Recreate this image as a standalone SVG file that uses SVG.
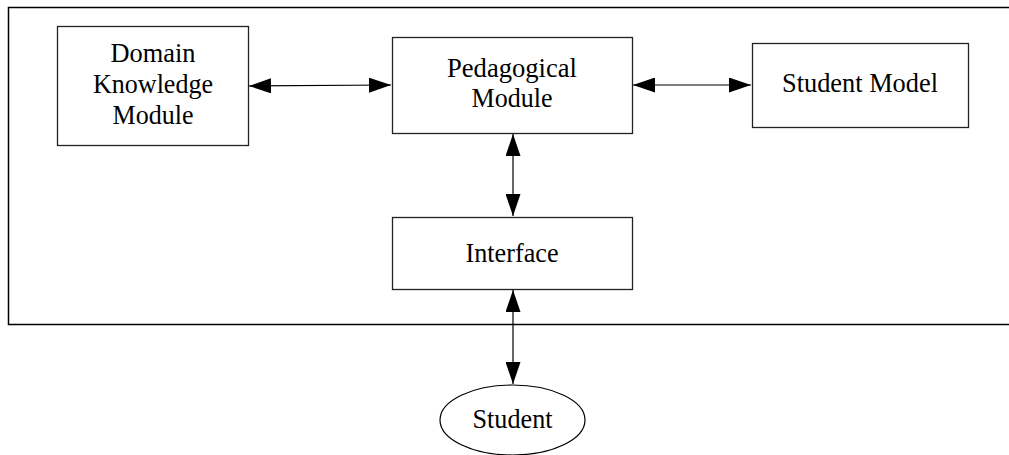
<svg xmlns="http://www.w3.org/2000/svg" width="1009" height="455" viewBox="0 0 1009 455">
  <style>
    .box { fill: #fff; stroke: #222; stroke-width: 1.3; }
    .frame { fill: none; stroke: #000; stroke-width: 1.5; }
    .lbl { font-family: "Liberation Serif", "Times New Roman", serif; font-size: 28px; fill: #000; text-anchor: middle; }
    .link { stroke: #000; stroke-width: 1.2; fill: none; marker-start: url(#head); marker-end: url(#head); }
  </style>
  <defs>
    <marker id="head" markerUnits="userSpaceOnUse" markerWidth="22" markerHeight="15" refX="22" refY="7.5" orient="auto-start-reverse">
      <path d="M0,0 L22,7.5 L0,15 z" fill="#000"/>
    </marker>
  </defs>

  <rect width="1009" height="455" fill="#fff"/>

  <!-- system boundary, open on the right -->
  <rect class="frame" x="8.5" y="7.5" width="1010" height="317"/>

  <g id="connectors">
    <line class="link" x1="249" y1="86" x2="391" y2="85"/>
    <line class="link" x1="633" y1="85" x2="751" y2="85"/>
    <line class="link" x1="513" y1="134" x2="513" y2="216"/>
    <line class="link" x1="513" y1="290" x2="513" y2="384"/>
  </g>

  <g id="domain-knowledge-module">
    <rect class="box" x="57.5" y="26.5" width="191" height="119"/>
    <text class="lbl" x="153" y="62" textLength="85" lengthAdjust="spacingAndGlyphs">Domain</text>
    <text class="lbl" x="153" y="93" textLength="120" lengthAdjust="spacingAndGlyphs">Knowledge</text>
    <text class="lbl" x="153" y="124" textLength="81" lengthAdjust="spacingAndGlyphs">Module</text>
  </g>

  <g id="pedagogical-module">
    <rect class="box" x="392.5" y="37.5" width="240" height="96"/>
    <text class="lbl" x="512" y="77" textLength="130" lengthAdjust="spacingAndGlyphs">Pedagogical</text>
    <text class="lbl" x="512" y="107" textLength="81" lengthAdjust="spacingAndGlyphs">Module</text>
  </g>

  <g id="student-model">
    <rect class="box" x="752.5" y="43.5" width="216" height="84"/>
    <text class="lbl" x="860" y="92" textLength="156" lengthAdjust="spacingAndGlyphs">Student Model</text>
  </g>

  <g id="interface">
    <rect class="box" x="392.5" y="217.5" width="240" height="72"/>
    <text class="lbl" x="512" y="262" textLength="93" lengthAdjust="spacingAndGlyphs">Interface</text>
  </g>

  <g id="student">
    <ellipse class="box" cx="512.5" cy="420" rx="72.5" ry="35" style="stroke:#000;stroke-width:1.2"/>
    <text class="lbl" x="512.5" y="428" textLength="80" lengthAdjust="spacingAndGlyphs">Student</text>
  </g>
</svg>
